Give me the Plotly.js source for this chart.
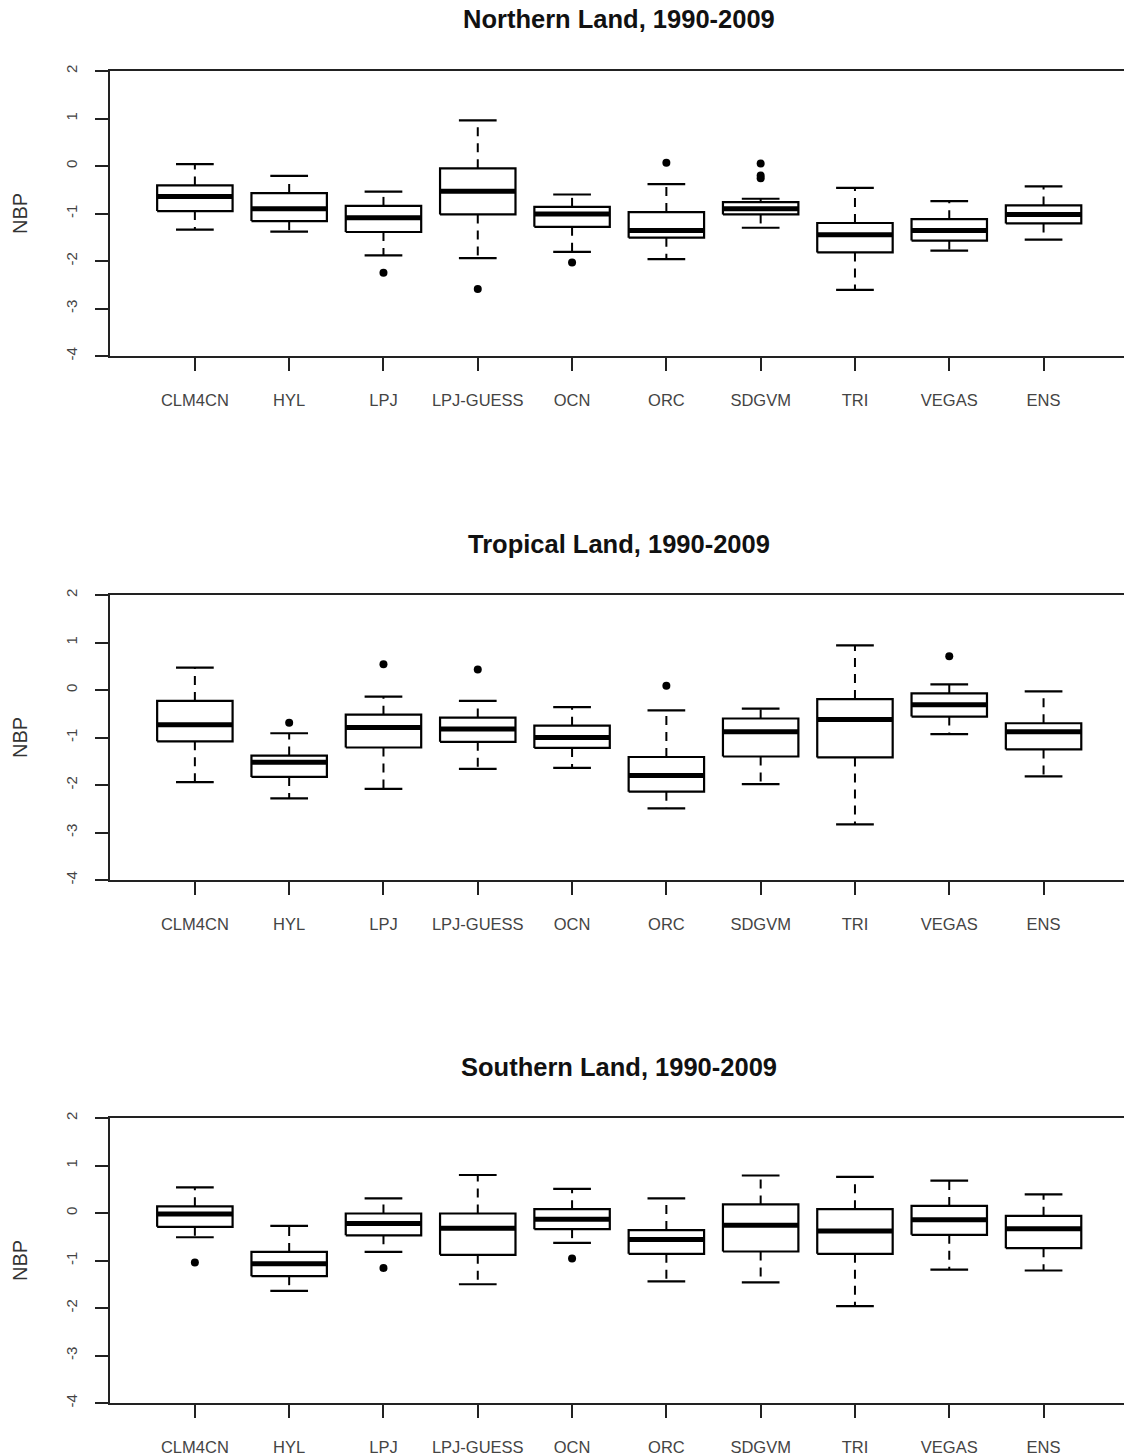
<!DOCTYPE html>
<html>
<head>
<meta charset="utf-8">
<script src="https://cdn.plot.ly/plotly-3.0.1.min.js"></script>
<style>
  html, body { margin: 0; padding: 0; background: #fff; }
  #chart { width: 1124px; height: 1456px; }
</style>
</head>
<body>
<div id="chart"></div>
<script>
// ---- Data (NBP) ----
const categories = ['CLM4CN','HYL','LPJ','LPJ-GUESS','OCN','ORC','SDGVM','TRI','VEGAS','ENS'];
const panelTitles = ['Northern Land, 1990-2009', 'Tropical Land, 1990-2009', 'Southern Land, 1990-2009'];
const yTickVals = [-4, -3, -2, -1, 0, 1, 2];

// Northern Land
const nUpper = [0.04, -0.21, -0.54, 0.96, -0.60, -0.38, -0.69, -0.46, -0.74, -0.43];
const nQ3    = [-0.41, -0.57, -0.84, -0.05, -0.86, -0.97, -0.76, -1.20, -1.12, -0.83];
const nMed   = [-0.64, -0.90, -1.09, -0.53, -1.01, -1.36, -0.90, -1.45, -1.36, -1.02];
const nQ1    = [-0.95, -1.16, -1.39, -1.02, -1.28, -1.51, -1.02, -1.82, -1.57, -1.21];
const nLower = [-1.34, -1.38, -1.88, -1.94, -1.81, -1.96, -1.30, -2.61, -1.78, -1.55];
const nOutCat = ['LPJ', 'LPJ-GUESS', 'OCN', 'ORC', 'SDGVM', 'SDGVM', 'SDGVM'];
const nOutVal = [-2.25, -2.59, -2.03, 0.07, 0.05, -0.20, -0.26];

// Tropical Land
const tUpper = [0.47, -0.91, -0.14, -0.23, -0.36, -0.43, -0.39, 0.94, 0.12, -0.03];
const tQ3    = [-0.23, -1.38, -0.52, -0.58, -0.75, -1.41, -0.60, -0.19, -0.07, -0.70];
const tMed   = [-0.73, -1.52, -0.79, -0.82, -1.00, -1.80, -0.88, -0.62, -0.31, -0.88];
const tQ1    = [-1.08, -1.83, -1.21, -1.09, -1.22, -2.14, -1.40, -1.42, -0.56, -1.25];
const tLower = [-1.94, -2.28, -2.08, -1.66, -1.64, -2.49, -1.98, -2.83, -0.93, -1.82];
const tOutCat = ['HYL', 'LPJ', 'LPJ-GUESS', 'ORC', 'VEGAS'];
const tOutVal = [-0.69, 0.54, 0.43, 0.09, 0.71];

// Southern Land
const sUpper = [0.54, -0.27, 0.31, 0.80, 0.51, 0.31, 0.79, 0.76, 0.68, 0.39];
const sQ3    = [0.14, -0.82, -0.01, -0.01, 0.08, -0.36, 0.18, 0.08, 0.15, -0.06];
const sMed   = [-0.02, -1.07, -0.22, -0.32, -0.13, -0.56, -0.26, -0.38, -0.14, -0.33];
const sQ1    = [-0.29, -1.33, -0.47, -0.88, -0.34, -0.86, -0.81, -0.86, -0.46, -0.74];
const sLower = [-0.51, -1.64, -0.82, -1.50, -0.63, -1.44, -1.46, -1.96, -1.19, -1.21];
const sOutCat = ['CLM4CN', 'LPJ', 'OCN'];
const sOutVal = [-1.04, -1.16, -0.96];

// ---- Styling ----
const BOX_HALF = 0.4;   // R boxplot width 0.8
const CAP_HALF = 0.2;   // staple = half box width
const FONT = 'Liberation Sans, Arial, Helvetica, sans-serif';

function panelTraces(up, q3, med, q1, lo, outCat, outVal, xa, ya) {
  const bx = [], by = [], mx = [], my = [], wx = [], wy = [], cx = [], cy = [];
  categories.forEach((c, i) => {
    const x = i + 1;
    bx.push(x - BOX_HALF, x + BOX_HALF, x + BOX_HALF, x - BOX_HALF, x - BOX_HALF, null);
    by.push(q1[i], q1[i], q3[i], q3[i], q1[i], null);
    mx.push(x - BOX_HALF, x + BOX_HALF, null);
    my.push(med[i], med[i], null);
    wx.push(x, x, null, x, x, null);
    wy.push(q3[i], up[i], null, q1[i], lo[i], null);
    cx.push(x - CAP_HALF, x + CAP_HALF, null, x - CAP_HALF, x + CAP_HALF, null);
    cy.push(up[i], up[i], null, lo[i], lo[i], null);
  });
  const ox = outCat.map(c => categories.indexOf(c) + 1);
  const common = { xaxis: xa, yaxis: ya, showlegend: false, hoverinfo: 'skip', cliponaxis: false };
  return [
    Object.assign({ type: 'scatter', mode: 'lines', x: wx, y: wy,
      line: { color: '#000', width: 2, dash: '9px,7px' } }, common),
    Object.assign({ type: 'scatter', mode: 'lines', x: cx, y: cy,
      line: { color: '#000', width: 2.2 } }, common),
    Object.assign({ type: 'scatter', mode: 'lines', x: bx, y: by,
      line: { color: '#000', width: 2.2 } }, common),
    Object.assign({ type: 'scatter', mode: 'lines', x: mx, y: my,
      line: { color: '#000', width: 5 } }, common),
    Object.assign({ type: 'scatter', mode: 'markers', x: ox, y: outVal,
      marker: { color: '#000', size: 8, symbol: 'circle' } }, common)
  ];
}

const data = [].concat(
  panelTraces(nUpper, nQ3, nMed, nQ1, nLower, nOutCat, nOutVal, 'x', 'y'),
  panelTraces(tUpper, tQ3, tMed, tQ1, tLower, tOutCat, tOutVal, 'x2', 'y2'),
  panelTraces(sUpper, sQ3, sMed, sQ1, sLower, sOutCat, sOutVal, 'x3', 'y3')
);

const H = 1456;
// plot-area pixel rows (top, bottom) of each panel
const rows = [[71, 356], [595, 880], [1118, 1403]];
const titleY = [19, 544, 1067];

function xAxis(anchor) {
  return {
    anchor: anchor, domain: [0, 1],
    range: [0.1, 10.853], fixedrange: true,
    showgrid: false, zeroline: false,
    showline: true, mirror: true, linecolor: '#222', linewidth: 2,
    ticks: 'outside', ticklen: 13, tickwidth: 2, tickcolor: '#222',
    tickvals: categories.map((c, i) => i + 1), ticktext: categories,
    ticklabelstandoff: 15,
    tickfont: { family: FONT, size: 16.5, color: '#444' }
  };
}
function yAxis(anchor, r) {
  return {
    anchor: anchor,
    domain: [(H - r[1]) / H, (H - r[0]) / H],
    range: [-4, 2], fixedrange: true,
    showgrid: false, zeroline: false,
    showline: true, mirror: false, linecolor: '#222', linewidth: 2,
    ticks: 'outside', ticklen: 13, tickwidth: 2, tickcolor: '#222',
    tickvals: yTickVals, ticktext: yTickVals.map(String),
    tickangle: -90, ticklabelstandoff: 12,
    tickfont: { family: FONT, size: 15, color: '#444' },
    title: { text: 'NBP', font: { family: FONT, size: 20, color: '#333' }, standoff: 30 }
  };
}

const layout = {
  width: 1124, height: H,
  margin: { l: 110, r: 0, t: 0, b: 0 },
  paper_bgcolor: '#fff', plot_bgcolor: '#fff',
  showlegend: false,
  xaxis: xAxis('y'), yaxis: yAxis('x', rows[0]),
  xaxis2: xAxis('y2'), yaxis2: yAxis('x2', rows[1]),
  xaxis3: xAxis('y3'), yaxis3: yAxis('x3', rows[2]),
  annotations: panelTitles.map((t, k) => ({
    text: '<b>' + t + '</b>', xref: 'paper', yref: 'paper',
    x: (619 - 110) / 1014, y: (H - titleY[k]) / H,
    xanchor: 'center', yanchor: 'middle', showarrow: false,
    font: { family: FONT, size: 25.5, color: '#111' }
  }))
};

Plotly.newPlot('chart', data, layout, { staticPlot: true, displayModeBar: false });
</script>
</body>
</html>
